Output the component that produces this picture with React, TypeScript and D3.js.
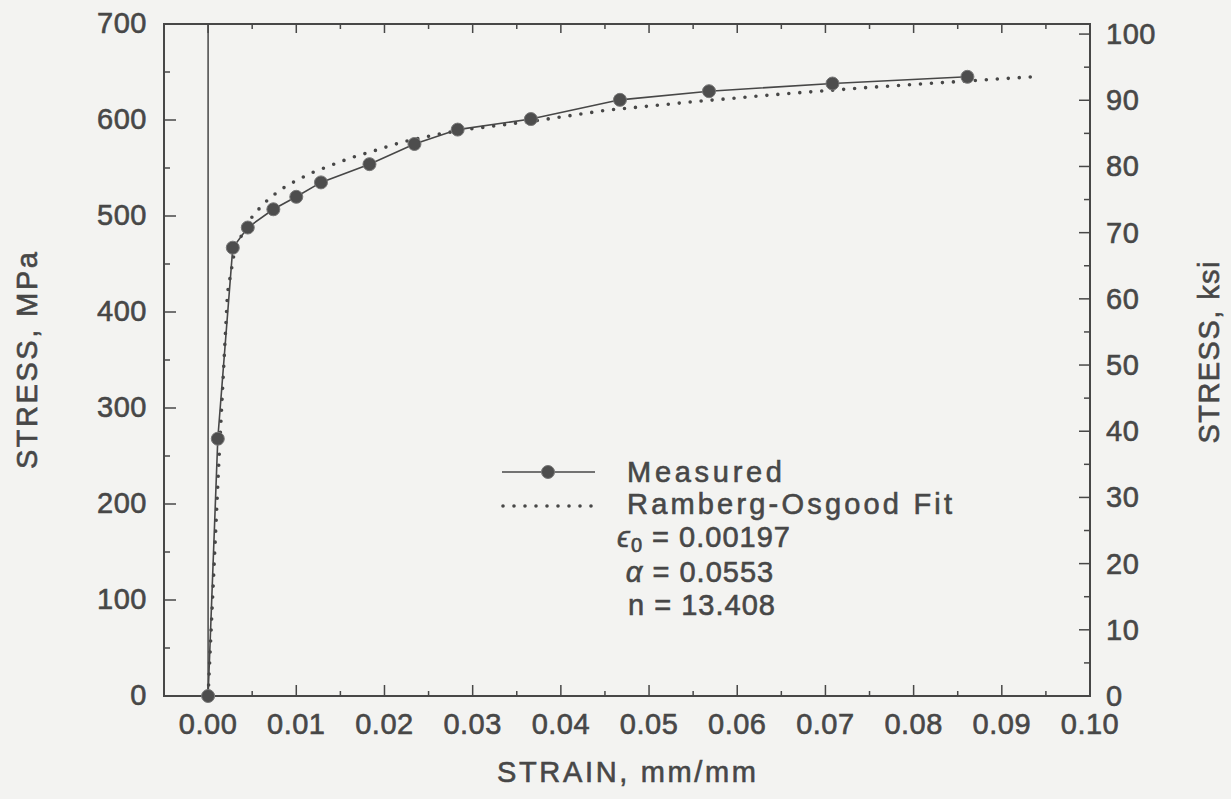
import React from "react";
import * as d3 from "d3";

// ---- data ----
const measuredStrain = [0, 0.0011, 0.0028, 0.0045, 0.0074, 0.01, 0.0128, 0.0183, 0.0234, 0.0283, 0.0366, 0.0467, 0.0568, 0.0708, 0.0861];
const measuredStress = [0, 268, 467, 488, 507, 520, 535, 554, 575, 590, 601, 621, 630, 638, 645];

const fitStrain = [0, 0.0012, 0.0022, 0.0029, 0.004, 0.0052, 0.007, 0.0085, 0.01, 0.012, 0.014, 0.016, 0.0185, 0.022, 0.0265, 0.03, 0.037, 0.045, 0.055, 0.065, 0.075, 0.085, 0.0935];
const fitStress = [0, 240, 420, 458, 485, 502, 519, 529, 537, 546, 553, 560, 567, 577, 586, 591, 599, 610, 619, 627, 634, 640, 645];

const xTicks = [0, 0.01, 0.02, 0.03, 0.04, 0.05, 0.06, 0.07, 0.08, 0.09, 0.1];
const yTicksMPa = [0, 100, 200, 300, 400, 500, 600, 700];
const yTicksKsi = [0, 10, 20, 30, 40, 50, 60, 70, 80, 90, 100];
const MPA_PER_KSI = 6.895;

const legendLabels = ["Measured", "Ramberg-Osgood Fit"];

const INK = "#474747";
const BG = "#f3f3f1";

export default function App() {
  const W = 1231, H = 799;
  const left = 164, right = 1090, top = 24, bottom = 696;
  const x = d3.scaleLinear().domain([-0.005, 0.1]).range([left, right]);
  const y = d3.scaleLinear().domain([0, 700]).range([bottom, top]);
  const yK = d3.scaleLinear().domain([0, 700 / MPA_PER_KSI]).range([bottom, top]);

  const measured = measuredStrain.map((s, i) => [s, measuredStress[i]] as [number, number]);
  const fit = fitStrain.map((s, i) => [s, fitStress[i]] as [number, number]);
  const line = d3.line<[number, number]>().x(d => x(d[0])).y(d => y(d[1]));

  const xMinor = d3.range(0.005, 0.1, 0.01);
  const yMinor = d3.range(50, 700, 100);
  const kMinor = d3.range(5, 100, 10);

  const base = { fontFamily: "'Liberation Sans', Arial, sans-serif", fill: INK, stroke: INK, strokeWidth: 0.6 };
  const tickFont = { ...base, fontSize: 29, letterSpacing: 0.5 } as const;
  const titleFont = { ...base, fontSize: 29, letterSpacing: 1 } as const;

  return (
    <svg width={W} height={H} style={{ position: "absolute", left: 0, top: 0 }}>
      <rect x={0} y={0} width={W} height={H} fill={BG} />
      {/* frame */}
      <rect x={left} y={top} width={right - left} height={bottom - top} fill="none" stroke={INK} strokeWidth={2} />
      {/* vertical line at strain 0 */}
      <line x1={x(0)} x2={x(0)} y1={top} y2={bottom} stroke={INK} strokeWidth={1.5} />

      {/* bottom & top ticks */}
      {xTicks.map(t => (
        <g key={"xt" + t}>
          <line x1={x(t)} x2={x(t)} y1={bottom} y2={bottom - 11} stroke={INK} strokeWidth={1.5} />
          <line x1={x(t)} x2={x(t)} y1={top} y2={top + 9} stroke={INK} strokeWidth={1.5} />
          <text x={x(t)} y={724} textAnchor="middle" dominantBaseline="central" {...tickFont}>{t.toFixed(2)}</text>
        </g>
      ))}
      {xMinor.map(t => (
        <g key={"xm" + t}>
          <line x1={x(t)} x2={x(t)} y1={bottom} y2={bottom - 5} stroke={INK} strokeWidth={1.5} />
          <line x1={x(t)} x2={x(t)} y1={top} y2={top + 5} stroke={INK} strokeWidth={1.5} />
        </g>
      ))}

      {/* left axis */}
      {yTicksMPa.map(t => (
        <g key={"yl" + t}>
          <line x1={left} x2={left + 12} y1={y(t)} y2={y(t)} stroke={INK} strokeWidth={1.5} />
          <text x={147} y={y(t) - 1} textAnchor="end" dominantBaseline="central" {...tickFont}>{t}</text>
        </g>
      ))}
      {yMinor.map(t => (
        <line key={"ym" + t} x1={left} x2={left + 6} y1={y(t)} y2={y(t)} stroke={INK} strokeWidth={1.5} />
      ))}

      {/* right axis (ksi) */}
      {yTicksKsi.map(t => (
        <g key={"yr" + t}>
          <line x1={right} x2={right - 11} y1={yK(t)} y2={yK(t)} stroke={INK} strokeWidth={1.5} />
          <text x={1106} y={yK(t)} textAnchor="start" dominantBaseline="central" {...tickFont}>{t}</text>
        </g>
      ))}
      {kMinor.map(t => (
        <line key={"km" + t} x1={right} x2={right - 6} y1={yK(t)} y2={yK(t)} stroke={INK} strokeWidth={1.5} />
      ))}

      {/* axis titles */}
      <text x={627} y={772} textAnchor="middle" dominantBaseline="central" {...titleFont} textLength={260} lengthAdjust="spacing">STRAIN, mm/mm</text>
      <text transform={`translate(27,360) rotate(-90)`} textAnchor="middle" dominantBaseline="central" {...titleFont} textLength={218} lengthAdjust="spacing">STRESS, MPa</text>
      <text transform={`translate(1209,352) rotate(-90)`} textAnchor="middle" dominantBaseline="central" {...titleFont} textLength={183} lengthAdjust="spacing">STRESS, ksi</text>

      {/* fit curve (dotted) */}
      <path d={line(fit) || ""} fill="none" stroke={INK} strokeWidth={3.6} strokeDasharray="0 11" strokeLinecap="round" />
      {/* measured */}
      <path d={line(measured) || ""} fill="none" stroke={INK} strokeWidth={1.6} />
      {measured.map((d, i) => (
        <circle key={"m" + i} cx={x(d[0])} cy={y(d[1])} r={6.5} fill="#4d4d4d" stroke="#777" strokeWidth={1} />
      ))}

      {/* legend */}
      <line x1={502} x2={595} y1={472} y2={472} stroke={INK} strokeWidth={1.6} />
      <circle cx={548} cy={472} r={6.5} fill="#4d4d4d" stroke="#777" strokeWidth={1} />
      <text x={627} y={472} dominantBaseline="central" {...titleFont} textLength={156} lengthAdjust="spacing">{legendLabels[0]}</text>
      <line x1={503} x2={592} y1={506} y2={506} stroke={INK} strokeWidth={3.6} strokeDasharray="0 11" strokeLinecap="round" />
      <text x={627} y={504} dominantBaseline="central" {...titleFont} textLength={326} lengthAdjust="spacing">{legendLabels[1]}</text>

      <text x={704} y={537} textAnchor="middle" dominantBaseline="central" {...titleFont}>
        <tspan fontStyle="italic">ϵ</tspan>
        <tspan fontSize={20} dy={8}>0</tspan>
        <tspan dy={-8}> = 0.00197</tspan>
      </text>
      <text x={700} y={572} textAnchor="middle" dominantBaseline="central" {...titleFont}>
        <tspan fontStyle="italic">α</tspan> = 0.0553
      </text>
      <text x={702} y={605} textAnchor="middle" dominantBaseline="central" {...titleFont}>n = 13.408</text>
    </svg>
  );
}
